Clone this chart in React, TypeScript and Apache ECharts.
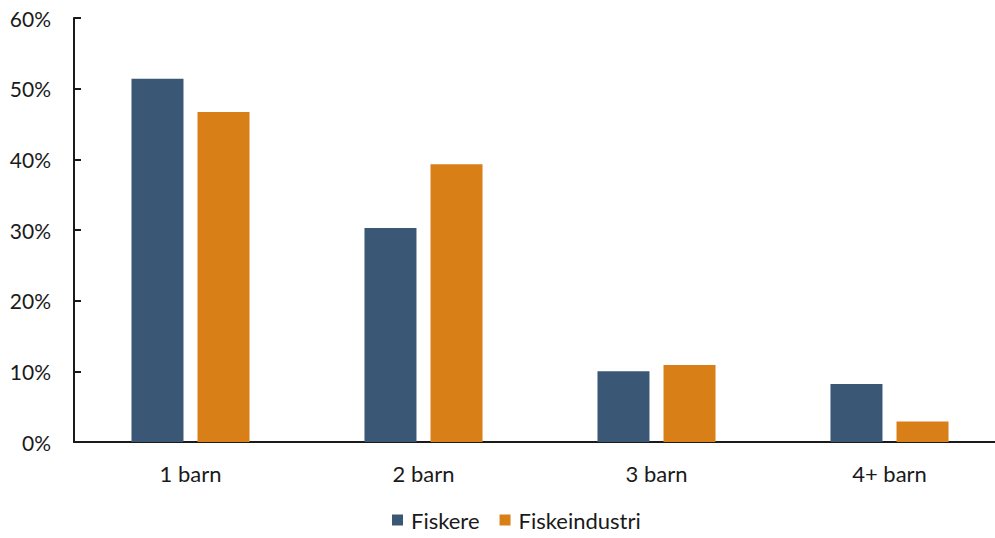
import React, { useEffect, useRef } from "react";
import * as echarts from "echarts";

const categories = ["1 barn", "2 barn", "3 barn", "4+ barn"];
const fiskere = [51.4, 30.3, 10.0, 8.2];
const fiskeindustri = [46.7, 39.3, 10.9, 2.9];
const seriesNames = ["Fiskere", "Fiskeindustri"];

export default function App() {
  const ref = useRef<HTMLDivElement>(null);
  useEffect(() => {
    const chart = echarts.init(ref.current!, null, { renderer: "svg" });
    const font = "Lato, 'Open Sans', sans-serif";
    chart.setOption({
      animation: false,
      textStyle: { fontFamily: font },
      grid: { left: 74, right: 0, top: 18, bottom: 96 },
      legend: {
        bottom: 2,
        left: 387,
        itemWidth: 11,
        itemHeight: 11,
        itemGap: 20,
        icon: "rect",
        textStyle: { fontSize: 22, color: "#1a1a1a", fontFamily: font, padding: [0, 0, 0, 3] },
        data: seriesNames,
      },
      xAxis: {
        type: "category",
        data: categories,
        axisLine: { lineStyle: { color: "#1a1a1a", width: 2 } },
        axisTick: { show: false },
        axisLabel: { fontSize: 22, color: "#1a1a1a", margin: 20, fontFamily: font },
      },
      yAxis: {
        type: "value",
        min: 0,
        max: 60,
        interval: 10,
        axisLine: { show: true, lineStyle: { color: "#1a1a1a", width: 2 } },
        axisTick: { show: true, inside: true, length: 7, lineStyle: { color: "#1a1a1a", width: 2 } },
        splitLine: { show: false },
        axisLabel: { fontSize: 21, color: "#1a1a1a", margin: 23, formatter: "{value}%", fontFamily: font },
      },
      series: [
        {
          name: seriesNames[0],
          type: "bar",
          data: fiskere,
          barWidth: 52,
          barGap: "27%",
          itemStyle: { color: "#3A5775" },
        },
        {
          name: seriesNames[1],
          type: "bar",
          data: fiskeindustri,
          barWidth: 52,
          itemStyle: { color: "#D97F17" },
        },
      ],
    });
    return () => chart.dispose();
  }, []);
  return (
    <div style={{ width: 995, height: 538, position: "absolute", left: 0, top: 0, overflow: "hidden" }}>
      <div ref={ref} style={{ width: 1006, height: 538 }} />
    </div>
  );
}
